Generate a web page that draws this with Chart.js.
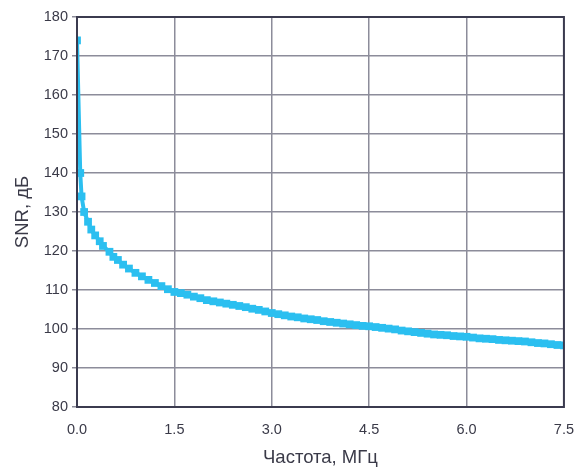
<!DOCTYPE html>
<html>
<head>
<meta charset="utf-8">
<script src="https://cdn.jsdelivr.net/npm/chart.js@4"></script>
<style>
  html, body { margin: 0; padding: 0; background: #fff; }
  canvas { display: block; }
</style>
</head>
<body>
<canvas id="chart" width="588" height="469"></canvas>
<script>
// Frequency, MHz
const freq = [
    0, 0.05, 0.07, 0.11, 0.17, 0.22, 0.28, 0.35, 0.40, 0.50,
    0.56, 0.63, 0.71, 0.80, 0.90, 1.0, 1.1, 1.2, 1.3, 1.4,
    1.5, 1.6, 1.7, 1.8, 1.9, 2.0, 2.1, 2.2, 2.3, 2.4,
    2.5, 2.6, 2.7, 2.8, 2.9, 3.0, 3.1, 3.2, 3.3, 3.4,
    3.5, 3.6, 3.7, 3.8, 3.9, 4.0, 4.1, 4.2, 4.3, 4.4,
    4.5, 4.6, 4.7, 4.8, 4.9, 5.0, 5.1, 5.2, 5.3, 5.4,
    5.5, 5.6, 5.7, 5.8, 5.9, 6.0, 6.1, 6.2, 6.3, 6.4,
    6.5, 6.6, 6.7, 6.8, 6.9, 7.0, 7.1, 7.2, 7.3, 7.4, 7.5,
]
// SNR, dB
const snr = [
    174, 140, 134, 130, 127.5, 125.5, 124, 122.5, 121.3, 119.8,
    118.5, 117.7, 116.5, 115.5, 114.4, 113.5, 112.6, 111.8, 111.0, 110.2,
    109.5, 109.2, 108.8, 108.3, 107.9, 107.4, 107.1, 106.8, 106.5, 106.2,
    105.9, 105.6, 105.2, 104.9, 104.5, 104.1, 103.8, 103.5, 103.2, 103.0,
    102.7, 102.5, 102.3, 102.0, 101.8, 101.6, 101.4, 101.2, 101.0, 100.8,
    100.7, 100.5, 100.3, 100.1, 99.9, 99.6, 99.4, 99.2, 99.0, 98.8,
    98.6, 98.5, 98.4, 98.2, 98.1, 98.0, 97.8, 97.6, 97.5, 97.4,
    97.2, 97.1, 97.0, 96.9, 96.8, 96.6, 96.4, 96.3, 96.1, 95.9, 95.8,
]

const xTitle = "Частота, МГц"
const yTitle = "SNR, дБ"

const FONT = "'Liberation Sans', Arial, sans-serif"
const TEXT = "#3a3a48"
const GRID = "#8c8c9a"
const FRAME = "#3b3b4f"
const LINE = "#2bbff0"

// dark frame around the plot area
const framePlugin = {
    id: "frame",
    afterDatasetsDraw(chart) {
        const {ctx, chartArea: a} = chart
        ctx.save()
        ctx.strokeStyle = FRAME
        ctx.lineWidth = 2
        ctx.strokeRect(a.left, a.top, a.right - a.left, a.bottom - a.top)
        ctx.restore()
    }
}

const data = freq.map((x, i) => ({ x: x, y: snr[i] }))

new Chart(document.getElementById("chart"), {
    type: "line",
    data: {
        datasets: [
            {
                data: data,
                borderColor: LINE,
                backgroundColor: LINE,
                borderWidth: 4,
                tension: 0,
                pointStyle: "rect",
                pointRadius: 5.5,
                pointBorderWidth: 0,
                pointBackgroundColor: LINE,
            },
        ],
    },
    options: {
        responsive: false,
        animation: false,
        layout: {
            padding: { left: 0, top: 17, right: 23, bottom: 0 },
        },
        plugins: {
            legend: { display: false },
            tooltip: { enabled: false },
        },
        scales: {
            x: {
                type: "linear",
                min: 0,
                max: 7.5,
                afterFit(scale) { scale.height = 62 },
                border: { display: false },
                grid: {
                    color: GRID,
                    lineWidth: 1.5,
                    drawTicks: false,
                },
                ticks: {
                    stepSize: 1.5,
                    padding: 14,
                    color: TEXT,
                    font: { family: FONT, size: 14.5 },
                    maxRotation: 0,
                    callback: (v) => v.toFixed(1),
                },
                title: {
                    display: true,
                    text: xTitle,
                    color: TEXT,
                    font: { family: FONT, size: 18.5 },
                    padding: { top: 0, bottom: 0 },
                },
            },
            y: {
                type: "linear",
                min: 80,
                max: 180,
                afterFit(scale) { scale.width = 77 },
                border: { display: false },
                grid: {
                    color: GRID,
                    lineWidth: 1.5,
                    tickLength: 5,
                },
                ticks: {
                    stepSize: 10,
                    padding: 4,
                    color: TEXT,
                    font: { family: FONT, size: 14.5 },
                },
                title: {
                    display: true,
                    text: yTitle,
                    color: TEXT,
                    font: { family: FONT, size: 18.5 },
                    padding: { top: 12, bottom: 0 },
                },
            },
        },
    },
    plugins: [framePlugin],
})
</script>
</body>
</html>
